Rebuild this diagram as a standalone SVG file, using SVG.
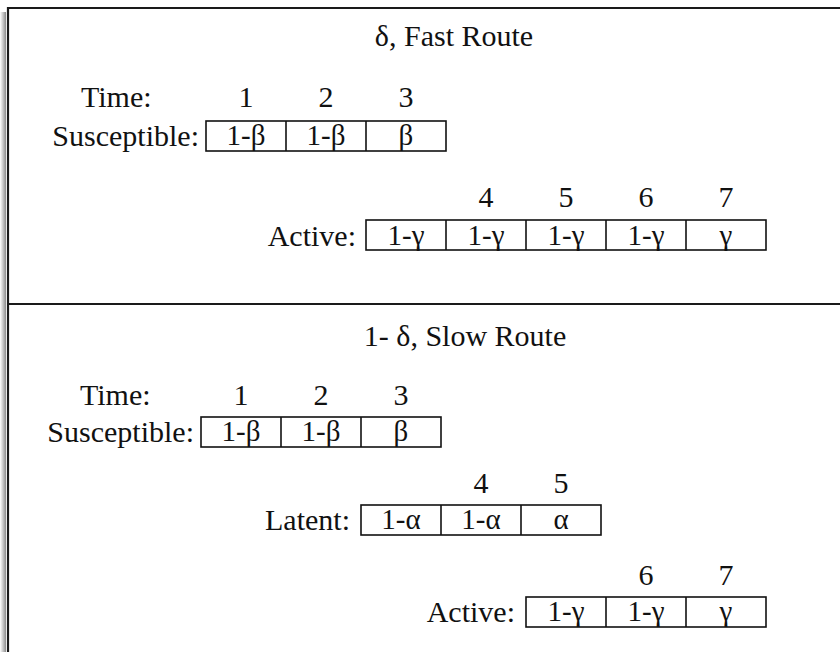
<svg xmlns="http://www.w3.org/2000/svg" width="840" height="652" viewBox="0 0 840 652">
  <defs>
    <linearGradient id="edgeShade" x1="0" y1="0" x2="1" y2="0">
      <stop offset="0" stop-color="#ffffff"/>
      <stop offset="1" stop-color="#8c8c8c"/>
    </linearGradient>
    <style>
      text { font-family: "Liberation Serif", "Times New Roman", serif; fill: #111; }
      .title { font-size: 30px; text-anchor: middle; }
      .lbl { font-size: 30px; }
      .end { text-anchor: end; }
      .num { font-size: 30px; text-anchor: middle; }
      .cell { font-size: 29px; text-anchor: middle; }
      .box { fill: #fff; stroke: #111; stroke-width: 1.6; }
      .div { stroke: #111; stroke-width: 1.6; }
      .frame { fill: none; stroke: #1a1a1a; stroke-width: 2.2; }
    </style>
  </defs>

  <rect width="840" height="652" fill="#fff"/>

  <!-- outer panel with shaded left edge -->
  <g id="frame">
    <rect x="0" y="12" width="6" height="640" fill="url(#edgeShade)"/>
    <path class="frame" d="M8,660 V8 H845"/>
    <line class="frame" x1="8" y1="304" x2="845" y2="304"/>
  </g>

  <!-- upper panel: fast route -->
  <g id="fast-title">
    <text class="title" x="454" y="46">δ, Fast Route</text>
  </g>

  <g id="fast-time">
    <text class="lbl" x="81" y="107">Time:</text>
    <text class="num" x="246" y="107">1</text>
    <text class="num" x="326" y="107">2</text>
    <text class="num" x="406" y="107">3</text>
  </g>

  <g id="fast-susceptible">
    <text class="lbl end" x="199" y="146">Susceptible:</text>
    <rect class="box" x="206" y="121" width="240" height="30"/>
    <line class="div" x1="286" y1="121" x2="286" y2="151"/>
    <line class="div" x1="366" y1="121" x2="366" y2="151"/>
    <text class="cell" x="246" y="145">1-β</text>
    <text class="cell" x="326" y="145">1-β</text>
    <text class="cell" x="406" y="145">β</text>
  </g>

  <g id="fast-active">
    <text class="num" x="486" y="207">4</text>
    <text class="num" x="566" y="207">5</text>
    <text class="num" x="646" y="207">6</text>
    <text class="num" x="726" y="207">7</text>
    <text class="lbl end" x="356" y="246">Active:</text>
    <rect class="box" x="366" y="220" width="400" height="30"/>
    <line class="div" x1="446" y1="220" x2="446" y2="250"/>
    <line class="div" x1="526" y1="220" x2="526" y2="250"/>
    <line class="div" x1="606" y1="220" x2="606" y2="250"/>
    <line class="div" x1="686" y1="220" x2="686" y2="250"/>
    <text class="cell" x="406" y="245">1-γ</text>
    <text class="cell" x="486" y="245">1-γ</text>
    <text class="cell" x="566" y="245">1-γ</text>
    <text class="cell" x="646" y="245">1-γ</text>
    <text class="cell" x="726" y="245">γ</text>
  </g>

  <!-- lower panel: slow route -->
  <g id="slow-title">
    <text class="title" x="465" y="346">1- δ, Slow Route</text>
  </g>

  <g id="slow-time">
    <text class="lbl" x="80" y="405">Time:</text>
    <text class="num" x="241" y="405">1</text>
    <text class="num" x="321" y="405">2</text>
    <text class="num" x="401" y="405">3</text>
  </g>

  <g id="slow-susceptible">
    <text class="lbl end" x="194" y="442">Susceptible:</text>
    <rect class="box" x="201" y="417" width="240" height="30"/>
    <line class="div" x1="281" y1="417" x2="281" y2="447"/>
    <line class="div" x1="361" y1="417" x2="361" y2="447"/>
    <text class="cell" x="241" y="441">1-β</text>
    <text class="cell" x="321" y="441">1-β</text>
    <text class="cell" x="401" y="441">β</text>
  </g>

  <g id="slow-latent">
    <text class="num" x="481" y="493">4</text>
    <text class="num" x="561" y="493">5</text>
    <text class="lbl end" x="350" y="530">Latent:</text>
    <rect class="box" x="361" y="505" width="240" height="30"/>
    <line class="div" x1="441" y1="505" x2="441" y2="535"/>
    <line class="div" x1="521" y1="505" x2="521" y2="535"/>
    <text class="cell" x="401" y="529">1-α</text>
    <text class="cell" x="481" y="529">1-α</text>
    <text class="cell" x="561" y="529">α</text>
  </g>

  <g id="slow-active">
    <text class="num" x="646" y="585">6</text>
    <text class="num" x="726" y="585">7</text>
    <text class="lbl end" x="515" y="622">Active:</text>
    <rect class="box" x="526" y="597" width="240" height="30"/>
    <line class="div" x1="606" y1="597" x2="606" y2="627"/>
    <line class="div" x1="686" y1="597" x2="686" y2="627"/>
    <text class="cell" x="566" y="621">1-γ</text>
    <text class="cell" x="646" y="621">1-γ</text>
    <text class="cell" x="726" y="621">γ</text>
  </g>
</svg>
